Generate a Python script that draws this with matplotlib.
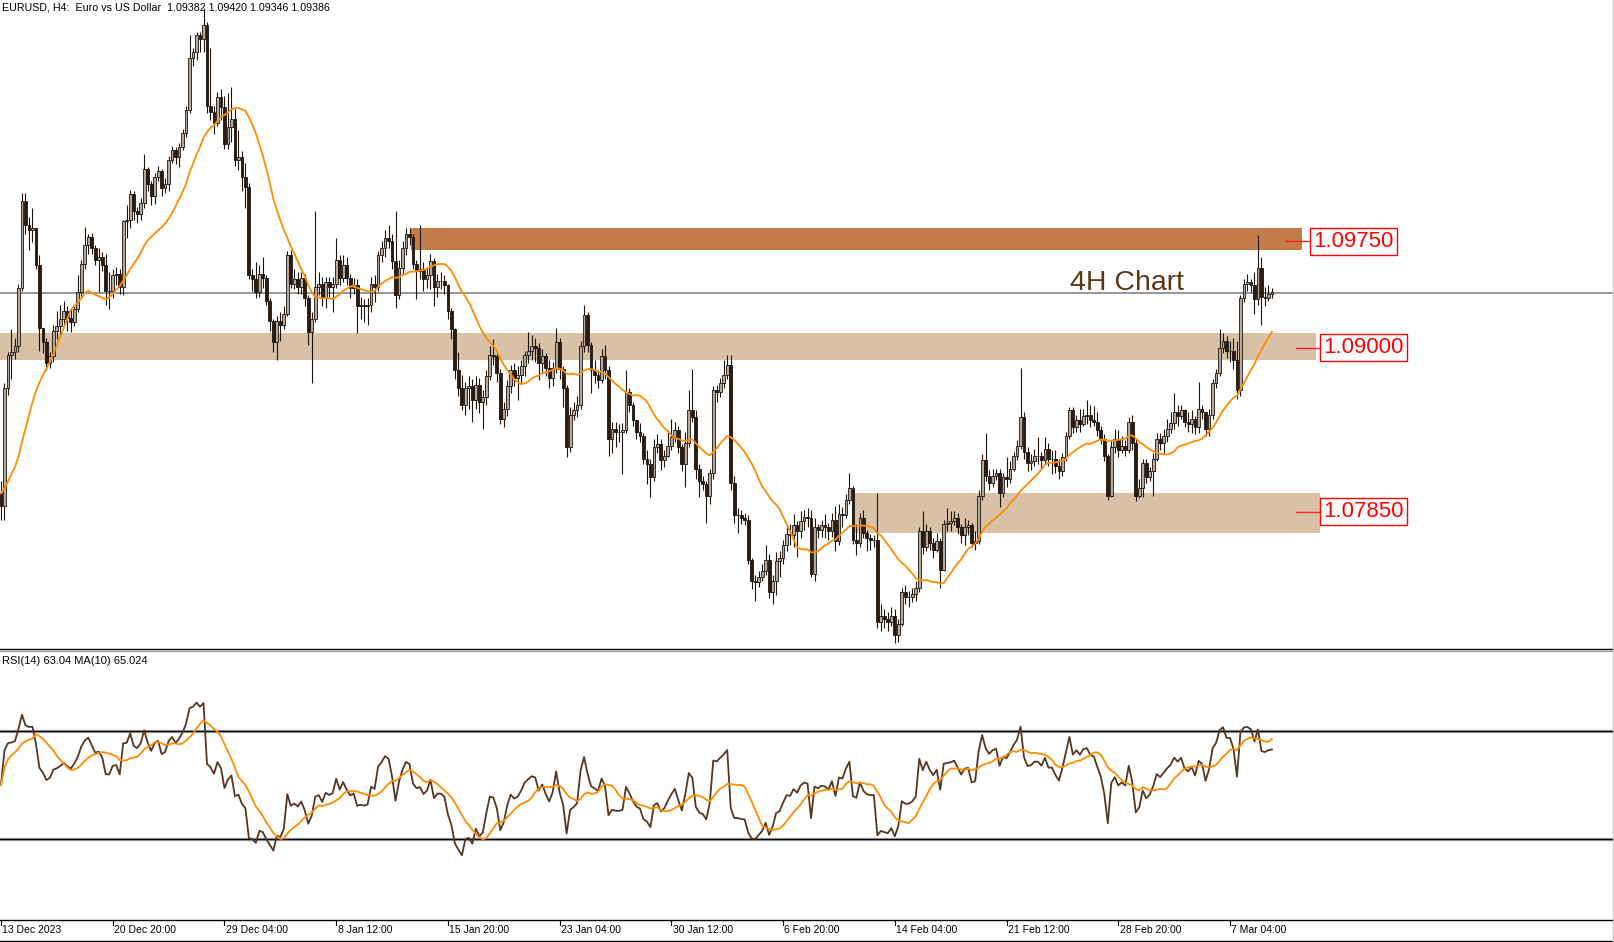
import numpy as np
import pandas as pd
import matplotlib
matplotlib.use('Agg')
import matplotlib.pyplot as plt
from matplotlib.patches import Rectangle
from matplotlib.lines import Line2D
from matplotlib.transforms import blended_transform_factory

plt.rcParams['font.family'] = ['Liberation Sans', 'DejaVu Sans']

#=============================================================================
# Data: EURUSD H4 candles, one value per bar
#=============================================================================
first_open = 1.0798

close = [1.0789, 1.0872, 1.0895, 1.0897, 1.0901, 1.0942, 1.1003, 1.0986, 1.0983, 1.0984,
         1.0958, 1.0914, 1.0904, 1.0889, 1.0894, 1.0912, 1.0915, 1.0920, 1.0926, 1.0921,
         1.0918, 1.0927, 1.0939, 1.0959, 1.0972, 1.0978, 1.0970, 1.0962, 1.0964, 1.0958,
         1.0940, 1.0940, 1.0951, 1.0952, 1.0943, 1.0989, 1.0990, 1.1008, 1.0996, 1.0994,
         1.1002, 1.1026, 1.1015, 1.1007, 1.1020, 1.1024, 1.1012, 1.1015, 1.1032, 1.1039,
         1.1034, 1.1041, 1.1051, 1.1067, 1.1104, 1.1108, 1.1120, 1.1117, 1.1127, 1.1070,
         1.1066, 1.1058, 1.1076, 1.1069, 1.1043, 1.1055, 1.1061, 1.1032, 1.1034, 1.1020,
         1.1013, 1.0951, 1.0948, 1.0939, 1.0952, 1.0949, 1.0933, 1.0919, 1.0904, 1.0919,
         1.0916, 1.0924, 1.0965, 1.0945, 1.0948, 1.0943, 1.0949, 1.0935, 1.0911, 1.0920,
         1.0943, 1.0945, 1.0935, 1.0946, 1.0943, 1.0945, 1.0962, 1.0949, 1.0958, 1.0949,
         1.0942, 1.0944, 1.0929, 1.0930, 1.0929, 1.0930, 1.0945, 1.0943, 1.0965, 1.0970,
         1.0977, 1.0975, 1.0961, 1.0937, 1.0956, 1.0970, 1.0980, 1.0978, 1.0959, 1.0954,
         1.0955, 1.0948, 1.0951, 1.0961, 1.0943, 1.0947, 1.0947, 1.0944, 1.0926, 1.0913,
         1.0884, 1.0872, 1.0860, 1.0872, 1.0873, 1.0863, 1.0874, 1.0862, 1.0865, 1.0880,
         1.0895, 1.0894, 1.0882, 1.0850, 1.0857, 1.0873, 1.0884, 1.0879, 1.0881, 1.0887,
         1.0895, 1.0898, 1.0901, 1.0900, 1.0889, 1.0894, 1.0886, 1.0879, 1.0886, 1.0904,
         1.0885, 1.0872, 1.0830, 1.0853, 1.0856, 1.0860, 1.0901, 1.0923, 1.0902, 1.0884,
         1.0881, 1.0877, 1.0894, 1.0884, 1.0836, 1.0843, 1.0841, 1.0841, 1.0842, 1.0869,
         1.0860, 1.0849, 1.0841, 1.0838, 1.0822, 1.0818, 1.0809, 1.0830, 1.0832, 1.0821,
         1.0824, 1.0831, 1.0837, 1.0842, 1.0830, 1.0818, 1.0833, 1.0856, 1.0851, 1.0815,
         1.0806, 1.0804, 1.0796, 1.0812, 1.0870, 1.0869, 1.0875, 1.0881, 1.0888, 1.0805,
         1.0782, 1.0782, 1.0780, 1.0779, 1.0751, 1.0736, 1.0735, 1.0739, 1.0743, 1.0751,
         1.0728, 1.0736, 1.0750, 1.0752, 1.0761, 1.0769, 1.0768, 1.0775, 1.0771, 1.0778,
         1.0781, 1.0780, 1.0741, 1.0774, 1.0772, 1.0775, 1.0774, 1.0771, 1.0779, 1.0764,
         1.0783, 1.0782, 1.0793, 1.0801, 1.0765, 1.0763, 1.0780, 1.0770, 1.0766, 1.0765,
         1.0765, 1.0707, 1.0711, 1.0709, 1.0707, 1.0711, 1.0698, 1.0706, 1.0728, 1.0725,
         1.0725, 1.0727, 1.0731, 1.0771, 1.0760, 1.0771, 1.0763, 1.0758, 1.0764, 1.0744,
         1.0776, 1.0777, 1.0778, 1.0780, 1.0774, 1.0768, 1.0774, 1.0775, 1.0763, 1.0764,
         1.0796, 1.0821, 1.0810, 1.0805, 1.0810, 1.0812, 1.0798, 1.0809, 1.0808, 1.0815,
         1.0824, 1.0831, 1.0851, 1.0827, 1.0819, 1.0820, 1.0824, 1.0824, 1.0821, 1.0829,
         1.0822, 1.0822, 1.0817, 1.0813, 1.0823, 1.0838, 1.0856, 1.0844, 1.0849, 1.0846,
         1.0852, 1.0853, 1.0849, 1.0848, 1.0842, 1.0836, 1.0824, 1.0796, 1.0830, 1.0836,
         1.0828, 1.0831, 1.0828, 1.0848, 1.0833, 1.0796, 1.0801, 1.0819, 1.0809, 1.0813,
         1.0822, 1.0836, 1.0833, 1.0838, 1.0843, 1.0847, 1.0855, 1.0852, 1.0856, 1.0848,
         1.0846, 1.0850, 1.0844, 1.0857, 1.0855, 1.0843, 1.0853, 1.0875, 1.0882, 1.0900,
         1.0905, 1.0898, 1.0898, 1.0891, 1.0870, 1.0935, 1.0945, 1.0946, 1.0944, 1.0934,
         1.0956, 1.0936, 1.0935, 1.0938, 1.0939]

high = [1.0806, 1.0875, 1.0897, 1.0913, 1.0907, 1.0945, 1.1009, 1.1009, 1.0992, 1.0998,
        1.0984, 1.0965, 1.0914, 1.0907, 1.0897, 1.0916, 1.0926, 1.0930, 1.0933, 1.0929,
        1.0927, 1.0930, 1.0951, 1.0962, 1.0985, 1.0980, 1.0981, 1.0972, 1.0970, 1.0967,
        1.0966, 1.0953, 1.0955, 1.0957, 1.0955, 1.0990, 1.1000, 1.1011, 1.1010, 1.0999,
        1.1005, 1.1036, 1.1027, 1.1017, 1.1023, 1.1028, 1.1026, 1.1019, 1.1035, 1.1042,
        1.1041, 1.1044, 1.1054, 1.1070, 1.1120, 1.1111, 1.1122, 1.1122, 1.1139, 1.1129,
        1.1111, 1.1070, 1.1080, 1.1082, 1.1077, 1.1079, 1.1083, 1.1068, 1.1053, 1.1038,
        1.1030, 1.1016, 1.0955, 1.0960, 1.0958, 1.0964, 1.0951, 1.0935, 1.0920, 1.0922,
        1.0925, 1.0929, 1.0968, 1.0969, 1.0955, 1.0953, 1.0953, 1.0952, 1.0937, 1.0925,
        1.0996, 1.0953, 1.0950, 1.0950, 1.0950, 1.0950, 1.0977, 1.0965, 1.0965, 1.0964,
        1.0952, 1.0949, 1.0948, 1.0936, 1.0934, 1.0935, 1.0950, 1.0951, 1.0968, 1.0975,
        1.0983, 1.0986, 1.0980, 1.0996, 1.0962, 1.0975, 1.0984, 1.0984, 1.0980, 1.0962,
        1.0986, 1.0960, 1.0957, 1.0966, 1.0963, 1.0952, 1.0953, 1.0951, 1.0945, 1.0928,
        1.0914, 1.0897, 1.0881, 1.0876, 1.0880, 1.0878, 1.0880, 1.0879, 1.0870, 1.0884,
        1.0901, 1.0906, 1.0897, 1.0885, 1.0862, 1.0877, 1.0888, 1.0889, 1.0887, 1.0891,
        1.0898, 1.0911, 1.0909, 1.0907, 1.0903, 1.0899, 1.0896, 1.0891, 1.0890, 1.0914,
        1.0907, 1.0887, 1.0874, 1.0858, 1.0862, 1.0866, 1.0905, 1.0930, 1.0925, 1.0904,
        1.0891, 1.0884, 1.0899, 1.0902, 1.0887, 1.0848, 1.0848, 1.0846, 1.0847, 1.0884,
        1.0872, 1.0862, 1.0848, 1.0847, 1.0840, 1.0828, 1.0822, 1.0836, 1.0839, 1.0836,
        1.0828, 1.0842, 1.0850, 1.0848, 1.0845, 1.0832, 1.0841, 1.0870, 1.0885, 1.0856,
        1.0818, 1.0810, 1.0806, 1.0815, 1.0873, 1.0874, 1.0879, 1.0891, 1.0895, 1.0895,
        1.0810, 1.0787, 1.0786, 1.0784, 1.0782, 1.0752, 1.0740, 1.0743, 1.0748, 1.0761,
        1.0755, 1.0740, 1.0756, 1.0757, 1.0765, 1.0774, 1.0776, 1.0783, 1.0778, 1.0785,
        1.0786, 1.0787, 1.0786, 1.0780, 1.0776, 1.0779, 1.0783, 1.0777, 1.0784, 1.0789,
        1.0790, 1.0788, 1.0797, 1.0812, 1.0803, 1.0776, 1.0784, 1.0786, 1.0772, 1.0769,
        1.0768, 1.0798, 1.0720, 1.0716, 1.0714, 1.0718, 1.0716, 1.0709, 1.0731, 1.0733,
        1.0729, 1.0731, 1.0736, 1.0774, 1.0785, 1.0776, 1.0774, 1.0766, 1.0770, 1.0766,
        1.0779, 1.0787, 1.0785, 1.0785, 1.0784, 1.0776, 1.0780, 1.0779, 1.0777, 1.0771,
        1.0800, 1.0825, 1.0840, 1.0814, 1.0815, 1.0815, 1.0815, 1.0812, 1.0823, 1.0820,
        1.0827, 1.0835, 1.0886, 1.0855, 1.0830, 1.0825, 1.0829, 1.0837, 1.0827, 1.0837,
        1.0833, 1.0828, 1.0828, 1.0822, 1.0826, 1.0841, 1.0858, 1.0858, 1.0853, 1.0857,
        1.0857, 1.0863, 1.0860, 1.0859, 1.0855, 1.0845, 1.0839, 1.0825, 1.0835, 1.0843,
        1.0842, 1.0838, 1.0835, 1.0851, 1.0853, 1.0836, 1.0808, 1.0822, 1.0822, 1.0816,
        1.0826, 1.0840, 1.0840, 1.0843, 1.0850, 1.0855, 1.0868, 1.0860, 1.0860, 1.0857,
        1.0855, 1.0856, 1.0852, 1.0876, 1.0860, 1.0855, 1.0857, 1.0878, 1.0885, 1.0913,
        1.0910, 1.0908, 1.0905, 1.0907, 1.0905, 1.0937, 1.0948, 1.0952, 1.0948, 1.0953,
        1.0979, 1.0964, 1.0943, 1.0944, 1.0942]

low = [1.0779, 1.0779, 1.0867, 1.0878, 1.0892, 1.0897, 1.0940, 1.0980, 1.0969, 1.0974,
       1.0955, 1.0898, 1.0896, 1.0884, 1.0886, 1.0890, 1.0906, 1.0909, 1.0916, 1.0912,
       1.0911, 1.0915, 1.0925, 1.0936, 1.0955, 1.0966, 1.0966, 1.0958, 1.0939, 1.0954,
       1.0930, 1.0927, 1.0935, 1.0944, 1.0938, 1.0937, 1.0977, 1.0984, 1.0990, 1.0988,
       1.0990, 1.0998, 1.1010, 1.1000, 1.1001, 1.1017, 1.1007, 1.1009, 1.1010, 1.1030,
       1.1029, 1.1027, 1.1039, 1.1048, 1.1065, 1.1098, 1.1102, 1.1108, 1.1108, 1.1065,
       1.1060, 1.1050, 1.1056, 1.1060, 1.1040, 1.1040, 1.1045, 1.1028, 1.1025, 1.1010,
       1.0998, 1.0948, 1.0940, 1.0935, 1.0936, 1.0942, 1.0930, 1.0912, 1.0897, 1.0891,
       1.0905, 1.0913, 1.0922, 1.0942, 1.0941, 1.0938, 1.0938, 1.0929, 1.0902, 1.0875,
       1.0918, 1.0937, 1.0929, 1.0928, 1.0936, 1.0925, 1.0942, 1.0944, 1.0946, 1.0944,
       1.0935, 1.0938, 1.0910, 1.0920, 1.0918, 1.0916, 1.0925, 1.0932, 1.0940, 1.0960,
       1.0964, 1.0970, 1.0955, 1.0928, 1.0934, 1.0952, 1.0965, 1.0972, 1.0955, 1.0934,
       1.0948, 1.0940, 1.0942, 1.0941, 1.0929, 1.0936, 1.0941, 1.0938, 1.0920, 1.0906,
       1.0878, 1.0866, 1.0856, 1.0853, 1.0857, 1.0848, 1.0857, 1.0854, 1.0843, 1.0860,
       1.0877, 1.0888, 1.0876, 1.0846, 1.0844, 1.0852, 1.0868, 1.0873, 1.0863, 1.0875,
       1.0880, 1.0889, 1.0891, 1.0890, 1.0877, 1.0882, 1.0880, 1.0872, 1.0873, 1.0882,
       1.0878, 1.0858, 1.0823, 1.0827, 1.0849, 1.0851, 1.0857, 1.0897, 1.0897, 1.0868,
       1.0875, 1.0872, 1.0875, 1.0878, 1.0824, 1.0826, 1.0830, 1.0834, 1.0811, 1.0840,
       1.0855, 1.0845, 1.0836, 1.0834, 1.0818, 1.0804, 1.0795, 1.0806, 1.0826, 1.0814,
       1.0816, 1.0823, 1.0828, 1.0834, 1.0826, 1.0813, 1.0802, 1.0830, 1.0848, 1.0808,
       1.0795, 1.0800, 1.0777, 1.0790, 1.0808, 1.0862, 1.0865, 1.0872, 1.0878, 1.0800,
       1.0777, 1.0770, 1.0776, 1.0775, 1.0748, 1.0730, 1.0722, 1.0732, 1.0736, 1.0740,
       1.0724, 1.0720, 1.0726, 1.0739, 1.0748, 1.0757, 1.0761, 1.0760, 1.0753, 1.0766,
       1.0772, 1.0774, 1.0739, 1.0736, 1.0766, 1.0767, 1.0766, 1.0765, 1.0767, 1.0757,
       1.0761, 1.0774, 1.0780, 1.0790, 1.0762, 1.0754, 1.0760, 1.0766, 1.0757, 1.0758,
       1.0760, 1.0703, 1.0701, 1.0703, 1.0701, 1.0704, 1.0692, 1.0693, 1.0704, 1.0720,
       1.0718, 1.0721, 1.0722, 1.0728, 1.0755, 1.0757, 1.0758, 1.0752, 1.0756, 1.0731,
       1.0743, 1.0771, 1.0771, 1.0775, 1.0769, 1.0763, 1.0761, 1.0768, 1.0760, 1.0758,
       1.0762, 1.0793, 1.0806, 1.0800, 1.0802, 1.0807, 1.0788, 1.0795, 1.0802, 1.0805,
       1.0813, 1.0821, 1.0829, 1.0822, 1.0813, 1.0814, 1.0817, 1.0818, 1.0815, 1.0818,
       1.0817, 1.0811, 1.0812, 1.0808, 1.0810, 1.0820, 1.0836, 1.0840, 1.0841, 1.0841,
       1.0845, 1.0846, 1.0844, 1.0845, 1.0838, 1.0832, 1.0820, 1.0793, 1.0795, 1.0826,
       1.0823, 1.0826, 1.0824, 1.0826, 1.0828, 1.0792, 1.0794, 1.0795, 1.0805, 1.0806,
       1.0796, 1.0820, 1.0828, 1.0826, 1.0834, 1.0840, 1.0843, 1.0845, 1.0850, 1.0844,
       1.0841, 1.0840, 1.0839, 1.0840, 1.0850, 1.0838, 1.0838, 1.0850, 1.0872, 1.0880,
       1.0896, 1.0893, 1.0890, 1.0885, 1.0864, 1.0866, 1.0932, 1.0940, 1.0939, 1.0924,
       1.0930, 1.0916, 1.0929, 1.0933, 1.0935]

# time axis labels (one every 32 bars)
tick_bars = [0, 32, 64, 96, 128, 160, 192, 224, 256, 288, 320, 352]
tick_labels = ['13 Dec 2023', '20 Dec 20:00', '29 Dec 04:00', '8 Jan 12:00',
               '15 Jan 20:00', '23 Jan 04:00', '30 Jan 12:00', '6 Feb 20:00',
               '14 Feb 04:00', '21 Feb 12:00', '28 Feb 20:00', '7 Mar 04:00']

# support / resistance zones (price ranges) and their labels
zone_res = (1.0969, 1.0984)
zone_mid = (1.0891, 1.0910)
zone_low = (1.0770, 1.0798)
level_labels = ['1.09750', '1.09000', '1.07850']
bid = 1.09386
header = 'EURUSD, H4:  Euro vs US Dollar  1.09382 1.09420 1.09346 1.09386'
rsi_label = 'RSI(14) 63.04 MA(10) 65.024'

#=============================================================================
# Indicators
#=============================================================================
close = np.array(close)
open_ = np.concatenate([[first_open], close[:-1]])
high = np.maximum(np.array(high), np.maximum(open_, close))
low = np.minimum(np.array(low), np.minimum(open_, close))
n = len(close)
x = np.arange(n)

# SMA(20); bars before the window taken at the first open
padded = np.concatenate([[first_open] * 19, close])
ma_price = pd.Series(padded).rolling(20).mean().values[19:]

# Wilder RSI(14), seeded neutral
ag, al = 0.0010, 0.0010
rsi = []
prev = close[0]
for c in close:
    d = c - prev
    prev = c
    ag = (ag * 13 + max(d, 0)) / 14
    al = (al * 13 + max(-d, 0)) / 14
    rsi.append(100 - 100 / (1 + ag / al))
rsi = np.array(rsi)
rsi_ma = pd.Series(rsi).rolling(10, min_periods=1).mean().values

#=============================================================================
# Layout helpers (pixel based)
#=============================================================================
W, H = 1614, 942
SP = 3.4915        # px per bar
def fx(px): return px / W
def fy(py): return 1 - py / H
def px2bar(px): return (px - 1.0) / SP
def py2price(py): return 1.09 + (347.7 - py) / 14220.0

fig = plt.figure(figsize=(W / 100, H / 100), dpi=100)
fig.patch.set_facecolor('white')

#----- price panel
ax = fig.add_axes([0, fy(649), 1, 649 / H])
ax.set_xlim(px2bar(0), px2bar(W))
ax.set_ylim(py2price(649), py2price(0))
ax.axis('off')

tan = '#d8c1a6'
ax.add_patch(Rectangle((px2bar(411), zone_res[0]), px2bar(1302) - px2bar(411),
                       zone_res[1] - zone_res[0], facecolor='#c47c4b', edgecolor='none', zorder=1))
ax.add_patch(Rectangle((px2bar(0), zone_mid[0]), px2bar(1316) - px2bar(0),
                       zone_mid[1] - zone_mid[0], facecolor=tan, edgecolor='none', zorder=1))
ax.add_patch(Rectangle((px2bar(852), zone_low[0]), px2bar(1320) - px2bar(852),
                       zone_low[1] - zone_low[0], facecolor=tan, edgecolor='none', zorder=1))

ax.axhline(bid, color='#7a7a7a', lw=1.1, zorder=2)

edge = '#1d130b'
up = close >= open_
body_lo = np.minimum(open_, close)
body_h = np.abs(close - open_)
ax.vlines(x, low, high, color=edge, lw=0.8, zorder=3)
ax.bar(x[up], body_h[up], bottom=body_lo[up], width=0.8, color='#b3a99f',
       edgecolor=edge, lw=0.6, zorder=4)
ax.bar(x[~up], body_h[~up], bottom=body_lo[~up], width=0.8, color='#2c1c10',
       edgecolor=edge, lw=0.6, zorder=4)
ax.plot(x, ma_price, color='#ff8c00', lw=1.3, zorder=5)

fig.text(fx(1070), fy(290), '4H Chart', fontsize=20.5, color='#5b3716', va='baseline')
fig.text(fx(2), fy(7), header, fontsize=7.7, va='center', color='black')

# level labels with red boxes
boxes = [(1310, 1397, 227.5, 254.5, 241.3, 1285),
         (1320, 1407, 334, 361, 347.7, 1296),
         (1320, 1407, 497.5, 524.5, 511.7, 1296)]
for lab, (x0, x1, y0, y1, yl, xl) in zip(level_labels, boxes):
    fig.add_artist(Line2D([fx(xl), fx(x0)], [fy(yl), fy(yl)], color='#ff2020', lw=1,
                          transform=fig.transFigure))
    fig.add_artist(Rectangle((fx(x0), fy(y1)), fx(x1) - fx(x0), fy(y0) - fy(y1),
                             transform=fig.transFigure, facecolor='white',
                             edgecolor='#ff0000', lw=1))
    fig.text(fx((x0 + x1) / 2), fy((y0 + y1) / 2 + 0.5), lab, fontsize=16, color='#ff0000',
             ha='center', va='center')

#----- RSI panel
ax2 = fig.add_axes([0, fy(920.8), 1, 271.6 / H])
ax2.set_xlim(px2bar(0), px2bar(W))
ax2.set_ylim(0, 100)
ax2.axis('off')
for lvl in (70, 30):
    ax2.axhline(lvl, color='#b0b0b0', lw=2.4, zorder=1)
    ax2.axhline(lvl, color='black', lw=1.0, zorder=2)
ax2.plot(x, rsi, color='#553620', lw=1.3, zorder=3)
ax2.plot(x, rsi_ma, color='#ff8c00', lw=1.3, zorder=4)
fig.text(fx(2), fy(661), rsi_label, fontsize=8, va='center')

# frame lines
for py, col, lw in [(649.3, 'black', 1.0), (651.3, '#a0a0a0', 1.0),
                    (920.3, 'black', 1.0), (941.3, 'black', 1.0)]:
    fig.add_artist(Line2D([0, 1], [fy(py), fy(py)], color=col, lw=lw, transform=fig.transFigure))
fig.add_artist(Line2D([fx(1613), fx(1613)], [fy(0), fy(941)], color='#c8c8c8', lw=1,
                      transform=fig.transFigure))

# time axis
trans = blended_transform_factory(ax2.transData, fig.transFigure)
for b, lab in zip(tick_bars, tick_labels):
    fig.add_artist(Line2D([b, b], [fy(920.5), fy(925)], color='black', lw=0.8, transform=trans))
    fig.text(b + 0.4, fy(930), lab, transform=trans, fontsize=7.5, va='center')

fig.savefig('out.png', dpi=100, facecolor='white')
